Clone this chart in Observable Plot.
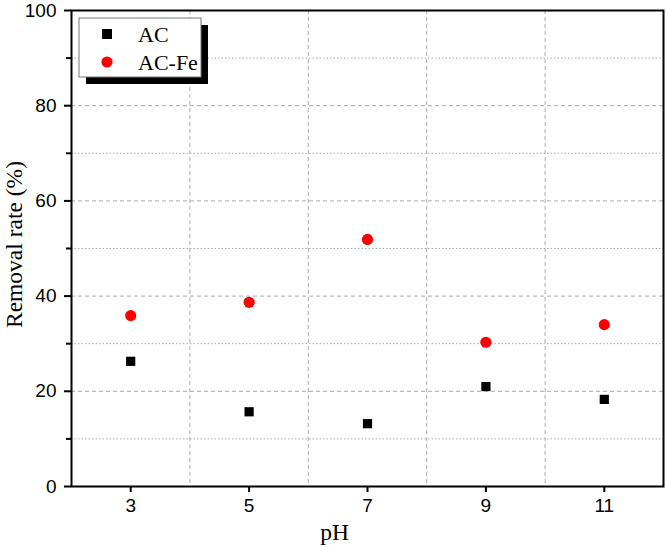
<!DOCTYPE html>
<html>
<head>
<meta charset="utf-8">
<script src="https://cdn.jsdelivr.net/npm/d3@7"></script>
<script src="https://cdn.jsdelivr.net/npm/@observablehq/plot@0.6"></script>
<style>
  html, body { margin: 0; padding: 0; background: #fff; }
  svg { display: block; }
</style>
</head>
<body>
<div id="chart"></div>
<script>
const pH = [3, 5, 7, 9, 11];
const acValues = [26.3, 15.7, 13.2, 21.0, 18.3];
const acFeValues = [35.9, 38.7, 51.9, 30.3, 34.0];
const seriesNames = ["AC", "AC-Fe"];
const xTicks = [3, 5, 7, 9, 11];
const xGrid = [4, 6, 8, 10];
const yMajor = [0, 20, 40, 60, 80, 100];
const yMinor = [10, 30, 50, 70, 90];

const ac = pH.map((p, i) => ({pH: p, v: acValues[i]}));
const acFe = pH.map((p, i) => ({pH: p, v: acFeValues[i]}));

const sans = "Liberation Sans, Arial, sans-serif";
const serif = "Liberation Serif, Times New Roman, serif";

const plot = Plot.plot({
  width: 666,
  height: 547,
  marginLeft: 71,
  marginRight: 3,
  marginTop: 10,
  marginBottom: 61,
  style: {background: "#fff"},
  x: {domain: [2, 12]},
  y: {domain: [0, 100]},
  marks: [
    Plot.gridY(yMinor, {stroke: "#aaa", strokeOpacity: 1, strokeDasharray: "1.5,2"}),
    Plot.gridY(yMajor.slice(1, 5), {stroke: "#aaa", strokeOpacity: 1, strokeDasharray: "4,3"}),
    Plot.gridX(xGrid, {stroke: "#aaa", strokeOpacity: 1, strokeDasharray: "4,3"}),
    Plot.dot(ac, {x: "pH", y: "v", symbol: "square", r: 5.2, fill: "black", stroke: "none"}),
    Plot.dot(acFe, {x: "pH", y: "v", symbol: "circle", r: 5.6, fill: "#ff0000", stroke: "none"}),
    Plot.frame({stroke: "black", strokeWidth: 2}),
    Plot.axisX({ticks: xTicks, tickSize: 6, tickFormat: () => "", label: null, strokeWidth: 2, stroke: "black"}),
    Plot.axisY({ticks: yMajor, tickSize: 7, tickFormat: () => "", label: null, strokeWidth: 2, stroke: "black"}),
    Plot.axisY({ticks: yMinor, tickSize: 5, tickFormat: () => "", label: null, strokeWidth: 2, stroke: "black"}),
    Plot.text(xTicks, {x: d => d, text: d => String(d), frameAnchor: "bottom", dy: 19, lineAnchor: "middle", fontSize: 19, fontFamily: sans, fill: "black"}),
    Plot.text(yMajor, {y: d => d, text: d => String(d), frameAnchor: "left", dx: -15, textAnchor: "end", lineAnchor: "middle", fontSize: 19, fontFamily: sans, fill: "black"}),
    Plot.text(["pH"], {frameAnchor: "bottom", dx: -33, dy: 46, textAnchor: "middle", lineAnchor: "middle", fontSize: 23.5, fontFamily: serif, fill: "black"}),
    Plot.text(["Removal rate (%)"], {frameAnchor: "left", rotate: -90, dx: -57, dy: -4, textAnchor: "middle", lineAnchor: "middle", fontSize: 23.5, fontFamily: serif, fill: "black"})
  ]
});

const svg = d3.select(plot);
const lg = svg.append("g").attr("class", "legend").attr("text-anchor", "start");
lg.append("rect").attr("x", 86).attr("y", 25).attr("width", 122).attr("height", 59).attr("fill", "black");
lg.append("rect").attr("x", 79).attr("y", 18).attr("width", 122).attr("height", 59).attr("fill", "white").attr("stroke", "#777").attr("stroke-width", 1);
lg.append("rect").attr("x", 102).attr("y", 29).attr("width", 10).attr("height", 10).attr("fill", "black");
lg.append("circle").attr("cx", 107).attr("cy", 62).attr("r", 5.6).attr("fill", "#ff0000");
lg.append("text").attr("x", 138).attr("y", 34).attr("dy", "0.35em").attr("text-anchor", "start").attr("font-family", serif).attr("font-size", 22).attr("fill", "black").text(seriesNames[0]);
lg.append("text").attr("x", 138).attr("y", 62).attr("dy", "0.35em").attr("text-anchor", "start").attr("font-family", serif).attr("font-size", 22).attr("fill", "black").text(seriesNames[1]);

document.getElementById("chart").appendChild(plot);
</script>
</body>
</html>
